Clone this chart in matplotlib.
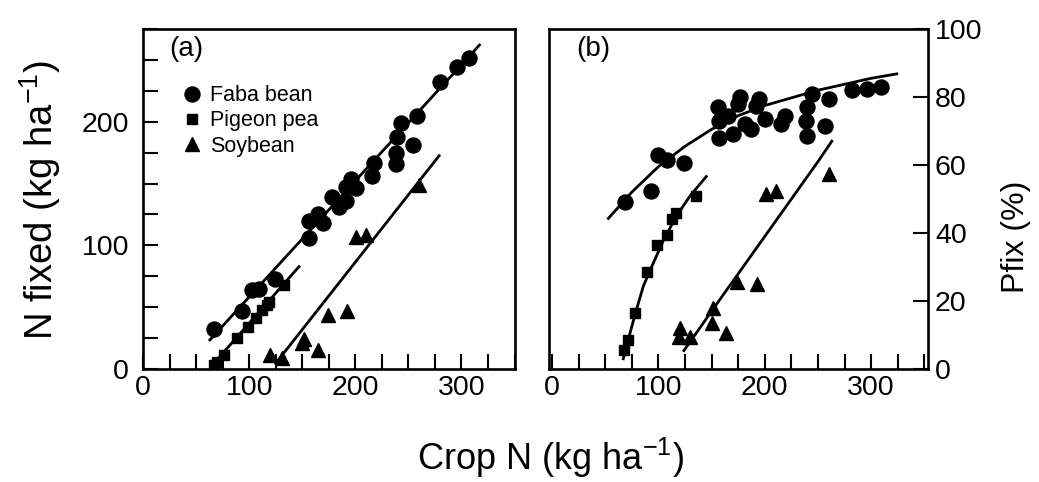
import matplotlib
matplotlib.use("Agg")
import matplotlib.pyplot as plt
from matplotlib.ticker import MultipleLocator

plt.rcParams['font.family'] = ['Liberation Sans', 'DejaVu Sans']
plt.rcParams['mathtext.default'] = 'regular'

# ---- panel (a): N fixed vs crop N ----
faba_a_x = [67, 93, 103, 109.5, 124, 156.5, 156.5, 165, 170, 178, 185, 191, 191, 196,
            201, 216, 218, 238, 238, 239, 243.5, 254.5, 258, 279.5, 296, 307]
faba_a_y = [32, 47, 64, 65, 72.5, 106, 120, 125, 118, 139, 131, 135.5, 147.5, 154,
            146, 156, 166.5, 175, 166, 188, 199, 181, 205, 232.5, 244, 251.5]
pigeon_a_x = [67, 70, 76, 89, 99, 106.5, 112.5, 117, 118.5, 133]
pigeon_a_y = [3, 6, 11, 25, 34, 41, 48, 52, 54.5, 68]
soy_a_x = [120, 131, 150, 152, 165, 174, 192.5, 200.5, 210, 260]
soy_a_y = [11, 8.5, 21, 24, 15.5, 43.5, 47, 106.5, 108.5, 149]

# fitted lines (end points)
faba_fit_a_x = [63, 317]
faba_fit_a_y = [23.5, 262]
pigeon_fit_a_x = [64, 147]
pigeon_fit_a_y = [1.9, 82.8]
soy_fit_a_x = [125, 279]
soy_fit_a_y = [4.6, 172.5]

# ---- panel (b): Pfix vs crop N ----
faba_b_x = [68.5, 93.5, 100, 108, 124.5, 156.5, 157, 157, 165.5, 170.5, 174.5, 176.5,
            181.5, 187.5, 191.5, 195, 200, 215, 219, 240, 238.5, 240, 244, 256.5,
            260.5, 282, 296.5, 309]
faba_b_y = [49, 52.5, 63, 61.5, 60.5, 77, 73, 68, 74.5, 69, 78, 80, 72, 70.5, 77.5,
            79.5, 73.5, 72, 74.5, 77, 73, 68.5, 81, 71.5, 79.5, 82, 82.5, 83]
pigeon_b_x = [68, 71, 78, 89, 99, 108, 112.5, 117, 135]
pigeon_b_y = [5.5, 8.5, 16.5, 28.5, 36.5, 39.5, 44, 46, 51]
soy_b_x = [120.5, 119.5, 130, 151, 150, 163.5, 173.5, 193, 201, 211, 260.5]
soy_b_y = [12, 9.5, 9.5, 18, 13.5, 10.5, 25.5, 25, 51.5, 52.5, 57.5]

# fitted curves
faba_fit_b_x = [53, 75, 100, 125, 150, 175, 200, 250, 300, 324]
faba_fit_b_y = [44.3, 52, 59.5, 65.5, 70.5, 74.5, 77.5, 82, 85.5, 86.8]
pigeon_fit_b_x = [67, 72, 78.5, 86, 95, 105, 117, 130, 145]
pigeon_fit_b_y = [3, 9, 16.5, 24.5, 31, 38, 45, 51, 56.6]
soy_fit_b_x = [124, 150, 175, 200, 225, 250, 263]
soy_fit_b_y = [5.4, 17, 28, 39, 50, 61, 67]

labels = ['Faba bean', 'Pigeon pea', 'Soybean']

fig = plt.figure(figsize=(10.39, 4.82), dpi=100)
ax1 = fig.add_axes([143/1039, 113/482, 371.5/1039, 340/482])
ax2 = fig.add_axes([549/1039, 113/482, 379/1039, 340/482])

lw = 2.0
ms_c, ms_s, ms_t = 10.8, 6.8, 10

for ax in (ax1, ax2):
    for s in ax.spines.values():
        s.set_linewidth(1.9)

# panel a
h1, = ax1.plot(faba_a_x, faba_a_y, 'o', color='black', ms=ms_c)
h2, = ax1.plot(pigeon_a_x, pigeon_a_y, 's', color='black', ms=ms_s)
h3, = ax1.plot(soy_a_x, soy_a_y, '^', color='black', ms=ms_t)
ax1.plot(faba_fit_a_x, faba_fit_a_y, '-', color='black', lw=lw)
ax1.plot(pigeon_fit_a_x, pigeon_fit_a_y, '-', color='black', lw=lw)
ax1.plot(soy_fit_a_x, soy_fit_a_y, '-', color='black', lw=lw)
ax1.set_xlim(0, 350)
ax1.set_ylim(0, 275)
ax1.xaxis.set_major_locator(MultipleLocator(100))
ax1.xaxis.set_minor_locator(MultipleLocator(25))
ax1.yaxis.set_major_locator(MultipleLocator(100))
ax1.yaxis.set_minor_locator(MultipleLocator(25))
ax1.tick_params(which='both', direction='in', length=11, width=1.5,
                top=False, right=False, labelsize=20.5)
ax1.tick_params(axis='x', pad=4)
ax1.tick_params(axis='y', pad=10)
ax1.text(0.072, 0.94, '(a)', transform=ax1.transAxes, fontsize=20, va='center')
ax1.legend([h1, h2, h3], labels, loc='upper left', bbox_to_anchor=(0.104, 0.835),
           frameon=False, fontsize=15.5, borderpad=0, borderaxespad=0,
           handlelength=1.0, handletextpad=0.3, labelspacing=0.2)

# panel b
ax2.plot(faba_b_x, faba_b_y, 'o', color='black', ms=ms_c)
ax2.plot(pigeon_b_x, pigeon_b_y, 's', color='black', ms=ms_s)
ax2.plot(soy_b_x, soy_b_y, '^', color='black', ms=ms_t)
ax2.plot(faba_fit_b_x, faba_fit_b_y, '-', color='black', lw=lw)
ax2.plot(pigeon_fit_b_x, pigeon_fit_b_y, '-', color='black', lw=lw)
ax2.plot(soy_fit_b_x, soy_fit_b_y, '-', color='black', lw=lw)
ax2.set_xlim(-2.8, 353.4)
ax2.set_ylim(0, 100)
ax2.xaxis.set_major_locator(MultipleLocator(100))
ax2.xaxis.set_minor_locator(MultipleLocator(25))
ax2.yaxis.set_major_locator(MultipleLocator(20))
ax2.yaxis.tick_right()
ax2.tick_params(which='both', direction='in', length=11, width=1.5,
                top=False, left=False, labelsize=20.5)
ax2.tick_params(axis='x', pad=4)
ax2.tick_params(axis='y', pad=5)
ax2.text(0.072, 0.94, '(b)', transform=ax2.transAxes, fontsize=20, va='center')

fig.text(40/1039, 1 - 200/482, 'N fixed (kg ha$^{-1}$)', rotation=90,
         ha='center', va='center', fontsize=27.5)
fig.text(1016/1039, 1 - 237/482, 'Pfix (%)', rotation=90,
         ha='center', va='center', fontsize=23)
fig.text(550/1039, 1 - 458/482, 'Crop N (kg ha$^{-1}$)',
         ha='center', va='center', fontsize=26)

fig.savefig('out.png', dpi=100)
